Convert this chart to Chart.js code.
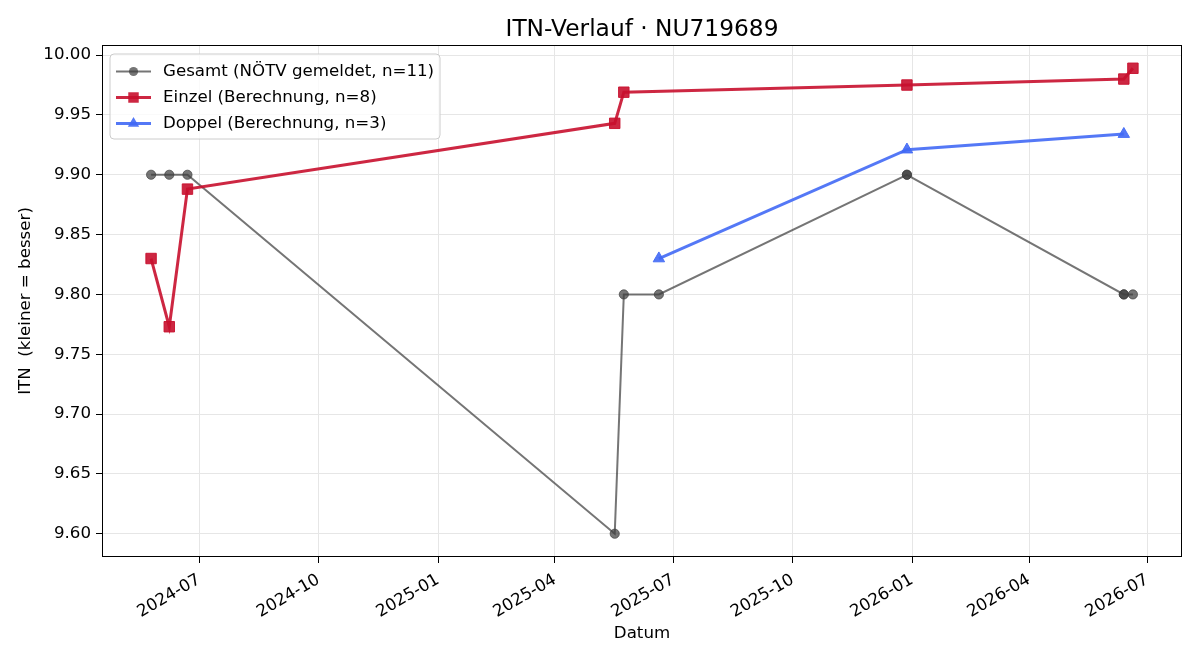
<!DOCTYPE html>
<html><head><meta charset="utf-8">
<script src="https://cdn.jsdelivr.net/npm/chart.js@4.4.1/dist/chart.umd.min.js"></script>
<style>html,body{margin:0;padding:0;background:#fff}#wrap{width:1200px;height:660px}</style>
</head><body><div id="wrap"><canvas id="c" width="1200" height="660"></canvas></div>
<script>
// ---- data ----
const gesamtDates  = ['2024-05-25','2024-06-08','2024-06-22','2025-05-17','2025-05-24','2025-06-20','2025-12-28','2025-12-28','2026-06-13','2026-06-13','2026-06-20'];
const gesamtValues = [9.90, 9.90, 9.90, 9.60, 9.80, 9.80, 9.90, 9.90, 9.80, 9.80, 9.80];
const einzelDates  = ['2024-05-25','2024-06-08','2024-06-22','2025-05-17','2025-05-24','2025-12-28','2026-06-13','2026-06-20'];
const einzelValues = [9.830, 9.773, 9.888, 9.943, 9.969, 9.975, 9.980, 9.989];
const doppelDates  = ['2025-06-20','2025-12-28','2026-06-13'];
const doppelValues = [9.830, 9.921, 9.934];
const xTickLabels  = ['2024-07','2024-10','2025-01','2025-04','2025-07','2025-10','2026-01','2026-04','2026-07'];
const yTickValues  = [9.60, 9.65, 9.70, 9.75, 9.80, 9.85, 9.90, 9.95, 10.00];
const seriesLabels = ['Gesamt (NÖTV gemeldet, n=11)', 'Einzel (Berechnung, n=8)', 'Doppel (Berechnung, n=3)'];
const chartTitle   = 'ITN-Verlauf · NU719689';

function toMs(s){ const p = s.split('-').map(Number); return Date.UTC(p[0], p[1]-1, p[2] || 1); }
function pts(dates, vals){ return dates.map((d,i)=>({x: toMs(d), y: vals[i]})); }

const allX = [...gesamtDates, ...einzelDates, ...doppelDates].map(toMs);
const allY = [...gesamtValues, ...einzelValues, ...doppelValues];
const xMinD = Math.min(...allX), xMaxD = Math.max(...allX);
const yMinD = Math.min(...allY), yMaxD = Math.max(...allY);
const xm = (xMaxD - xMinD) * 0.05, ym = (yMaxD - yMinD) * 0.05;

const FONT = 'DejaVu Sans';
const grayLine = 'rgba(64,64,64,0.72)';
const redC = 'rgba(200,16,46,0.9)';
const blueC = 'rgba(65,105,245,0.9)';

const styles = [
  {color: grayLine, width: 2, style: 'circle', r: 4.6},
  {color: redC, width: 3, style: 'rect', r: 7.4},
  {color: blueC, width: 3, style: 'triangle', r: 6.6}
];

function drawMarker(ctx, st, x, y){
  ctx.save();
  ctx.fillStyle = st.color; ctx.strokeStyle = st.color; ctx.lineWidth = 1;
  ctx.beginPath();
  if (st.style === 'circle') { ctx.arc(x, y, st.r, 0, Math.PI*2); }
  else if (st.style === 'rect') { const s = st.r*Math.SQRT1_2; ctx.rect(x-s, y-s, 2*s, 2*s); }
  else { for (let k=0;k<3;k++){ const a = k*2*Math.PI/3; const px = x + Math.sin(a)*st.r, py = y - Math.cos(a)*st.r; k? ctx.lineTo(px,py) : ctx.moveTo(px,py);} ctx.closePath(); }
  ctx.fill();
  ctx.restore();
}

const framePlugin = {
  id: 'frameLegend',
  afterDraw(chart){
    const {ctx, chartArea: a} = chart;
    ctx.save();
    ctx.strokeStyle = '#000'; ctx.lineWidth = 1;
    ctx.strokeRect(Math.round(a.left)+0.5, Math.round(a.top)+0.5, Math.round(a.right-a.left)-1, Math.round(a.bottom-a.top)-1);
    // title
    ctx.fillStyle = '#000'; ctx.font = '23.3px "' + FONT + '"';
    ctx.textAlign = 'center'; ctx.textBaseline = 'middle';
    ctx.fillText(chartTitle, (a.left + a.right) / 2, 29.5);
    // legend
    const bx = 110, by = 54, bw = 330, bh = 85, rr = 4;
    ctx.beginPath();
    ctx.moveTo(bx+rr, by); ctx.lineTo(bx+bw-rr, by); ctx.quadraticCurveTo(bx+bw, by, bx+bw, by+rr);
    ctx.lineTo(bx+bw, by+bh-rr); ctx.quadraticCurveTo(bx+bw, by+bh, bx+bw-rr, by+bh);
    ctx.lineTo(bx+rr, by+bh); ctx.quadraticCurveTo(bx, by+bh, bx, by+bh-rr);
    ctx.lineTo(bx, by+rr); ctx.quadraticCurveTo(bx, by, bx+rr, by);
    ctx.closePath();
    ctx.fillStyle = 'rgba(255,255,255,0.8)'; ctx.fill();
    ctx.strokeStyle = '#cccccc'; ctx.lineWidth = 1; ctx.stroke();
    const rows = [71.5, 97.5, 123.5];
    chart.data.datasets.forEach((ds, i) => {
      const st = styles[i], y = rows[i];
      ctx.strokeStyle = st.color; ctx.lineWidth = st.width;
      ctx.beginPath(); ctx.moveTo(116, y); ctx.lineTo(151, y); ctx.stroke();
      drawMarker(ctx, st, 133.5, y);
      ctx.fillStyle = '#000'; ctx.font = '16.67px "' + FONT + '"';
      ctx.textAlign = 'left'; ctx.textBaseline = 'middle';
      ctx.fillText(ds.label, 163, y);
    });
    ctx.restore();
  }
};

function mkDs(i, data, order){
  const st = styles[i];
  return {
    label: seriesLabels[i], data, order,
    borderColor: st.color, backgroundColor: st.color, borderWidth: st.width,
    pointStyle: st.style, pointRadius: st.r, pointHoverRadius: st.r,
    pointBackgroundColor: st.color, pointBorderColor: st.color, pointBorderWidth: 1,
    tension: 0, fill: false
  };
}

const tickFont = {family: FONT, size: 16.67};
new Chart(document.getElementById('c'), {
  type: 'line',
  data: { datasets: [
    mkDs(0, pts(gesamtDates, gesamtValues), 3),
    mkDs(1, pts(einzelDates, einzelValues), 2),
    mkDs(2, pts(doppelDates, doppelValues), 1)
  ]},
  options: {
    responsive: false, animation: false, devicePixelRatio: 1,
    layout: { padding: {left: 0, right: 18, top: 45, bottom: 0} },
    plugins: { legend: {display: false}, tooltip: {enabled: false}, title: {display: false} },
    scales: {
      x: {
        type: 'linear', position: 'bottom', min: xMinD - xm, max: xMaxD + xm,
        afterBuildTicks: s => { s.ticks = xTickLabels.map(l => ({value: toMs(l + '-01')})); },
        afterFit: s => { s.height = 103; },
        ticks: { callback: (v, i) => xTickLabels[i], minRotation: 30, maxRotation: 30, autoSkip: false,
                 font: tickFont, color: '#000', padding: 7 },
        grid: { color: '#e6e6e6', lineWidth: 1, tickLength: 6, tickColor: '#000', tickWidth: 1 },
        border: { display: false },
        title: { display: true, text: 'Datum', color: '#000', font: tickFont, padding: {top: 0, bottom: 16} }
      },
      y: {
        type: 'linear', min: yMinD - ym, max: yMaxD + ym,
        afterBuildTicks: s => { s.ticks = yTickValues.map(v => ({value: v})); },
        afterFit: s => { s.width = 102; },
        ticks: { callback: v => Number(v).toFixed(2), font: tickFont, color: '#000', padding: 5 },
        grid: { color: '#e6e6e6', lineWidth: 1, tickLength: 6, tickColor: '#000', tickWidth: 1 },
        border: { display: false },
        title: { display: true, text: 'ITN  (kleiner = besser)', color: '#000', font: tickFont, padding: {top: 16, bottom: 0} }
      }
    }
  },
  plugins: [framePlugin]
});
</script></body></html>
